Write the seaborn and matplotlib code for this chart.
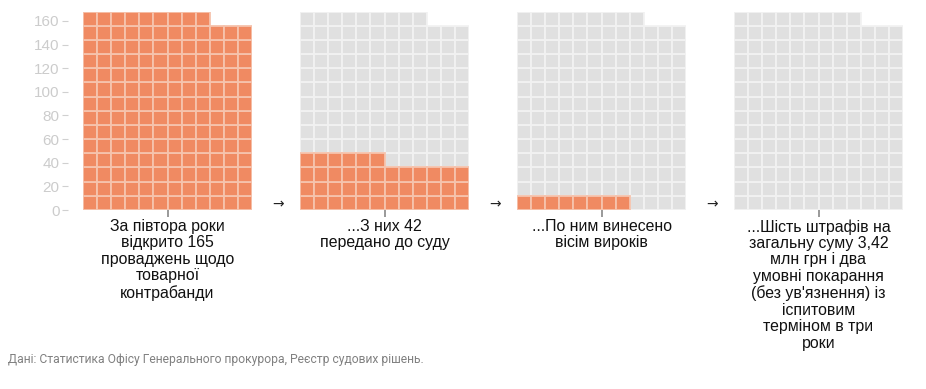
import numpy as np
import pandas as pd
import matplotlib.pyplot as plt
import seaborn as sns

# Data
total_cases = [165, 165, 165, 165]
highlighted = [165, 42, 8, 0]
captions = [
    "За півтора роки\nвідкрито 165\nпроваджень щодо\nтоварної\nконтрабанди",
    "...З них 42\nпередано до суду",
    "...По ним винесено\nвісім вироків",
    "...Шість штрафів на\nзагальну суму 3,42\nмлн грн і два\nумовні покарання\n(без ув'язнення) із\nіспитовим\nтерміном в три\nроки",
]
y_ticks = [0, 20, 40, 60, 80, 100, 120, 140, 160]
source = "Дані: Статистика Офісу Генерального прокурора, Реєстр судових рішень."

n_cols = 12
orange = "#f08a62"
grey = "#e0e0e0"

sns.set_style("white")
plt.rcParams['font.family'] = ['Liberation Sans', 'DejaVu Sans']

fig = plt.figure(figsize=(9.26, 3.89), dpi=100)
W, H = 926, 389

panel_left = [83, 300, 517, 734]
panel_w = 169
top_px, bottom_px = 11.5, 210

for i, (total, hl, cap) in enumerate(zip(total_cases, highlighted, captions)):
    ax = fig.add_axes([panel_left[i] / W, (H - bottom_px) / H,
                       panel_w / W, (bottom_px - top_px) / H])
    cells = pd.DataFrame({'idx': np.arange(total)})
    cells['col'] = cells['idx'] % n_cols
    cells['row'] = cells['idx'] // n_cols
    cells['on'] = cells['idx'] < hl
    for on, grp in cells.groupby('on'):
        ax.bar(grp['col'] + 0.5, n_cols, bottom=grp['row'] * n_cols, width=1,
               color=orange if on else grey,
               edgecolor='#f6c3ad' if on else '#f2f2f2', linewidth=1.3)
    ax.set_xlim(0, n_cols)
    ax.set_ylim(0, 168)
    sns.despine(ax=ax, left=True, bottom=True)
    ax.set_xticks([n_cols / 2])
    ax.set_xticklabels([cap], fontsize=11.4, color='#111111', linespacing=1.12)
    ax.tick_params(axis='x', length=5, width=1.2, color='#888888', pad=1.5, bottom=True)
    if i == 0:
        ax.set_yticks(y_ticks)
        ax.tick_params(axis='y', length=4, width=0.8, color='#d0d0d0',
                       labelcolor='#cccccc', labelsize=11, pad=2, left=True)
        ax.spines['left'].set_position(('outward', 11))
    else:
        ax.set_yticks([])

# arrows between panels
for i in range(3):
    xc = (panel_left[i] + panel_w + panel_left[i + 1]) / 2 + 2
    fig.text(xc / W, 1 - 204 / H, "→", ha='center', va='center',
             fontsize=10, color='#222222', family='DejaVu Sans')

fig.text(8 / W, 1 - 360 / H, source, ha='left', va='center',
         fontsize=8.7, color='#808080', family='Roboto')

plt.savefig('out.png', dpi=100)
